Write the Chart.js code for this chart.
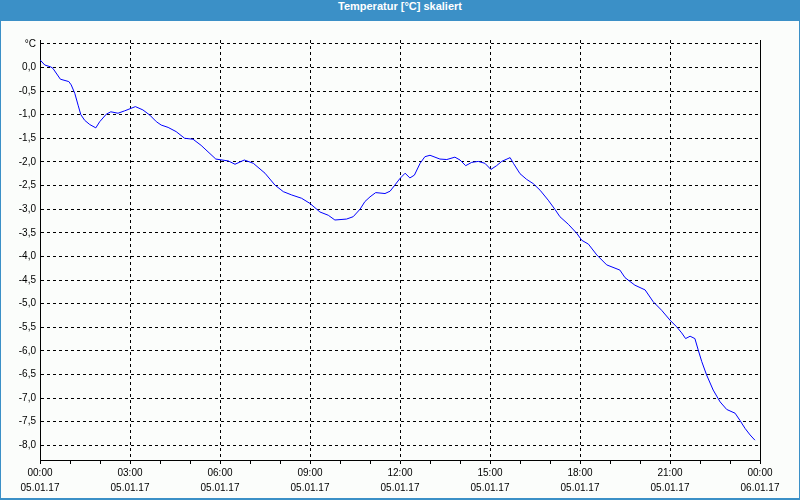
<!DOCTYPE html>
<html>
<head>
<meta charset="utf-8">
<title>Temperatur [°C] skaliert</title>
<script src="https://cdn.jsdelivr.net/npm/chart.js@4/dist/chart.umd.min.js"></script>
<style>
    html, body {
        margin: 0;
        padding: 0;
        background: #fbfdfb;
    }
    #wrap {
        position: relative;
        width: 800px;
        height: 500px;
        overflow: hidden;
    }
    #titleBar {
        position: absolute;
        left: 0;
        top: 0;
        width: 800px;
        height: 21px;
        line-height: 19px;
        background: #3b90c7;
        color: #fff;
        font: bold 11px "Liberation Sans", Arial, sans-serif;
        text-align: center;
    }
    #frame {
        position: absolute;
        left: 0;
        top: 0;
        width: 800px;
        height: 500px;
        box-sizing: border-box;
        border: 1px solid #3b90c7;
        border-bottom-width: 2px;
        pointer-events: none;
    }
    #tempChart {
        position: absolute;
        left: 0;
        top: 0;
    }
</style>
</head>
<body>
<div id="wrap">
    <div id="titleBar">Temperatur [°C] skaliert</div>
    <canvas id="tempChart" width="800" height="500"></canvas>
    <div id="frame"></div>
</div>

<script>
// Temperature chart, 05.01.17 00:00 - 06.01.17 00:00

// hours since 05.01.17 00:00
const hours = [
    0.00, 0.16, 0.36, 0.43, 0.68, 0.96, 1.04, 1.16, 1.27, 1.36,
    1.49, 1.66, 1.86, 1.99, 2.21, 2.36, 2.60, 2.82, 3.18, 3.43,
    3.66, 3.88, 4.04, 4.27, 4.54, 4.82, 5.10, 5.37, 5.86, 6.28,
    6.50, 6.81, 7.11, 7.50, 7.83, 8.11, 8.39, 8.72, 9.00, 9.33,
    9.61, 9.83, 10.22, 10.44, 10.67, 10.83, 11.00, 11.19, 11.50, 11.67,
    11.83, 12.00, 12.17, 12.33, 12.48, 12.67, 12.83, 13.00, 13.33, 13.56,
    13.83, 14.00, 14.19, 14.39, 14.61, 14.83, 15.03, 15.22, 15.39, 15.67,
    15.78, 16.00, 16.22, 16.44, 16.67, 16.94, 17.17, 17.33, 17.61, 17.89,
    18.06, 18.28, 18.56, 18.89, 19.33, 19.50, 19.83, 20.17, 20.44, 20.72,
    21.00, 21.22, 21.39, 21.52, 21.67, 21.83, 21.94, 22.06, 22.22, 22.44,
    22.67, 22.89, 23.17, 23.33, 23.50, 23.67, 23.83
];

// temperature in °C
const temps = [
    0.16, 0.05, 0.01, -0.02, -0.25, -0.30, -0.37, -0.55, -0.80, -1.00,
    -1.12, -1.21, -1.28, -1.15, -0.99, -0.94, -0.97, -0.92, -0.83, -0.90,
    -1.01, -1.15, -1.22, -1.27, -1.36, -1.50, -1.52, -1.65, -1.94, -1.98,
    -2.05, -1.96, -2.03, -2.24, -2.49, -2.63, -2.70, -2.77, -2.88, -3.06,
    -3.13, -3.23, -3.21, -3.16, -3.00, -2.84, -2.74, -2.65, -2.67, -2.62,
    -2.49, -2.35, -2.24, -2.34, -2.28, -2.03, -1.89, -1.86, -1.94, -1.95,
    -1.90, -1.96, -2.08, -2.01, -1.99, -2.03, -2.16, -2.08, -1.99, -1.91,
    -2.03, -2.25, -2.37, -2.46, -2.60, -2.81, -3.01, -3.16, -3.32, -3.51,
    -3.66, -3.74, -3.97, -4.18, -4.29, -4.45, -4.61, -4.71, -4.96, -5.14,
    -5.35, -5.49, -5.62, -5.74, -5.69, -5.74, -5.98, -6.23, -6.51, -6.83,
    -7.08, -7.24, -7.32, -7.47, -7.64, -7.78, -7.89
];

// x axis labels every 3 hours (time / date)
const timeLabels = ['00:00', '03:00', '06:00', '09:00', '12:00', '15:00', '18:00', '21:00', '00:00'];
const dateLabels = ['05.01.17', '05.01.17', '05.01.17', '05.01.17', '05.01.17', '05.01.17', '05.01.17', '05.01.17', '06.01.17'];

const yMin = -8.31;
const yMax = 0.58;

const tickFont = { family: '"Liberation Sans", Arial, sans-serif', size: 10 };

// draws the solid line on the right side of the plot area
const rightBorder = {
    id: 'rightBorder',
    afterDraw(chart) {
        const area = chart.chartArea;
        const ctx = chart.ctx;
        ctx.save();
        ctx.strokeStyle = '#000';
        ctx.lineWidth = 1;
        ctx.beginPath();
        ctx.moveTo(Math.round(area.right) + 0.5, area.top);
        ctx.lineTo(Math.round(area.right) + 0.5, area.bottom);
        ctx.stroke();
        ctx.restore();
    }
};

function formatTemp(value) {
    if (Math.abs(value - 0.5) < 0.001) return '°C';
    return value.toFixed(1).replace('.', ',').replace('-0,0', '0,0');
}

function createTempChart() {
    const ctx = document.getElementById('tempChart').getContext('2d');
    const points = hours.map((h, i) => ({ x: h, y: temps[i] }));

    new Chart(ctx, {
        type: 'line',
        data: {
            datasets: [{
                label: 'Temperatur',
                data: points,
                borderColor: '#0000ff',
                borderWidth: 1,
                pointRadius: 0,
                tension: 0,
                fill: false
            }]
        },
        plugins: [rightBorder],
        options: {
            responsive: false,
            animation: false,
            events: [],
            layout: {
                padding: { left: 0, top: 40, right: 40, bottom: 0 }
            },
            plugins: {
                legend: { display: false },
                tooltip: { enabled: false },
                title: { display: false }
            },
            scales: {
                x: {
                    type: 'linear',
                    min: 0,
                    max: 24,
                    afterFit: function(scale) { scale.height = 40; },
                    border: { display: true, color: '#000', width: 1, dash: [3, 3] },
                    grid: {
                        color: function(c) {
                            return c.tick && c.tick.value % 3 === 0 ? '#000' : 'rgba(0,0,0,0)';
                        },
                        tickColor: '#000',
                        tickLength: 4,
                        lineWidth: 1
                    },
                    ticks: {
                        stepSize: 1,
                        autoSkip: false,
                        maxRotation: 0,
                        padding: 2,
                        color: '#000',
                        font: Object.assign({ lineHeight: 1.5 }, tickFont),
                        callback: function(value) {
                            if (value % 3 !== 0) return '';
                            const i = value / 3;
                            return [timeLabels[i], dateLabels[i]];
                        }
                    }
                },
                y: {
                    min: yMin,
                    max: yMax,
                    afterFit: function(scale) { scale.width = 40; },
                    border: { display: true, color: '#000', width: 1, dash: [3, 3] },
                    grid: {
                        color: '#000',
                        lineWidth: 1,
                        drawTicks: false
                    },
                    ticks: {
                        stepSize: 0.5,
                        includeBounds: false,
                        padding: 4,
                        color: '#000',
                        font: tickFont,
                        callback: formatTemp
                    }
                }
            }
        }
    });
}

createTempChart();
</script>
</body>
</html>
